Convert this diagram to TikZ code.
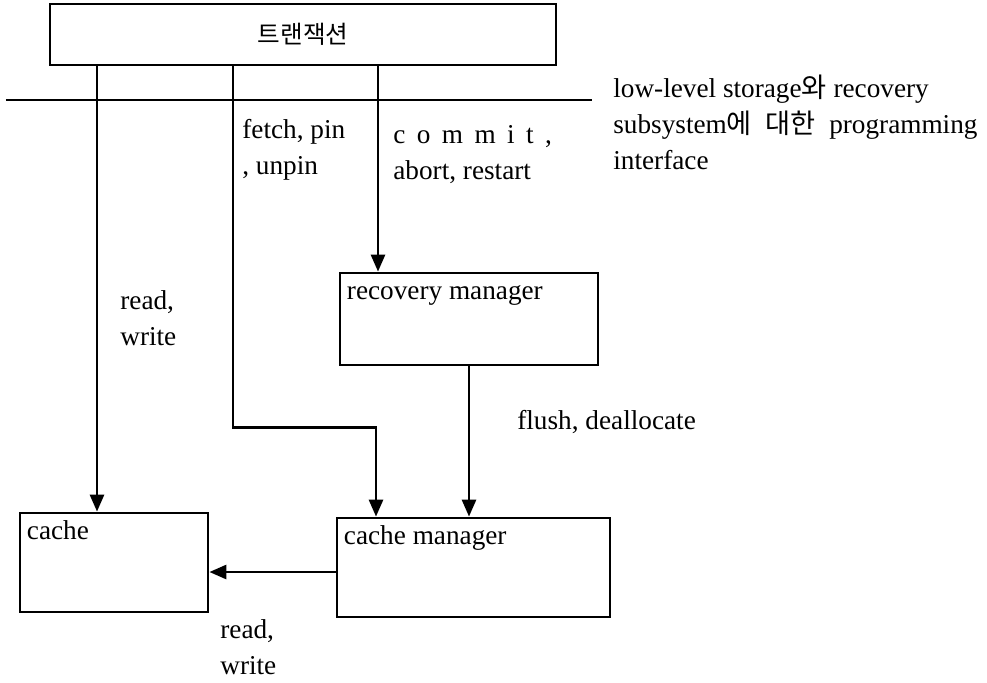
\documentclass[tikz,border=0pt]{standalone}
\usepackage{fontspec}
\setmainfont{Liberation Serif}
\newfontfamily\kr{Noto Sans CJK KR}
\usetikzlibrary{arrows.meta,positioning,calc}
\newcommand{\gap}{\hspace{0.42em}}
\tikzset{
  box/.style={draw, line width=1.6pt, inner sep=0pt},
  map/.style={-{Triangle[length=3.4mm,width=2.8mm]}, line width=1.6pt},
  lab/.style={font=\fontsize{15.5}{20.5}\selectfont, align=left, inner sep=0pt, anchor=north west},
  boxlab/.style={label={[lab, anchor=base west, xshift=1.6mm, yshift=-5.6mm]north west:#1}},
}

\begin{document}
\begin{tikzpicture}
  \useasboundingbox (0,0) rectangle (19.74,-13.64);
  \node[box, minimum width=10.12cm, minimum height=1.22cm, font=\kr\fontsize{14}{16}\selectfont] (trans) at (6.06,-0.69) {트랜잭션};
  \node[box, minimum width=5.16cm, minimum height=1.84cm, boxlab=recovery manager] (recmgr) at (9.38,-6.38) {};
  \node[box, minimum width=3.76cm, minimum height=1.98cm, boxlab=cache] (cache) at (2.28,-11.25) {};
  \node[box, minimum width=5.46cm, minimum height=1.98cm, boxlab=cache manager] (cachemgr) at (9.47,-11.35) {};
  % interface line
  \draw[line width=1.6pt] (0.12,-2) -- (11.84,-2);
  \node[lab] (iface) at (12.26,-1.5) {low-level storage{\kr 와} recovery\\ subsystem{\kr 에} \ {\kr 대한} \ programming\\ interface};
  % connectors
  \coordinate (t1) at ([xshift=-4.12cm]trans.south);
  \coordinate (t2) at ([xshift=-1.4cm]trans.south);
  \coordinate (t3) at ([xshift=1.5cm]trans.south);
  \coordinate (c1) at ([xshift=-1.95cm]cachemgr.north);
  \draw[map] (t1) -- (t1 |- cache.north);
  \draw[map] (t2) -- ++(0,-7.22) -| (c1);
  \draw[map] (t3) -- (t3 |- recmgr.north);
  \draw[map] (recmgr.south) -- (recmgr.south |- cachemgr.north);
  \draw[map] ([yshift=-0.09cm]cachemgr.west) -- ([yshift=-0.09cm]cachemgr.west -| cache.east);
  % labels
  \node[lab] (rw1) at (2.40,-5.8) {read,\\ write};
  \node[lab] (fpu) at (4.84,-2.38) {fetch, pin\\ , unpin};
  \node[lab] (car) at (7.86,-2.48) {\vphantom{l}c\gap o\gap m\gap m\gap i\gap t\gap ,\\ abort, restart};
  \node[lab] (fd) at (10.34,-8.2) {flush, deallocate};
  \node[lab] (rw2) at (4.40,-12.38) {read,\\ write};
\end{tikzpicture}
\end{document}
